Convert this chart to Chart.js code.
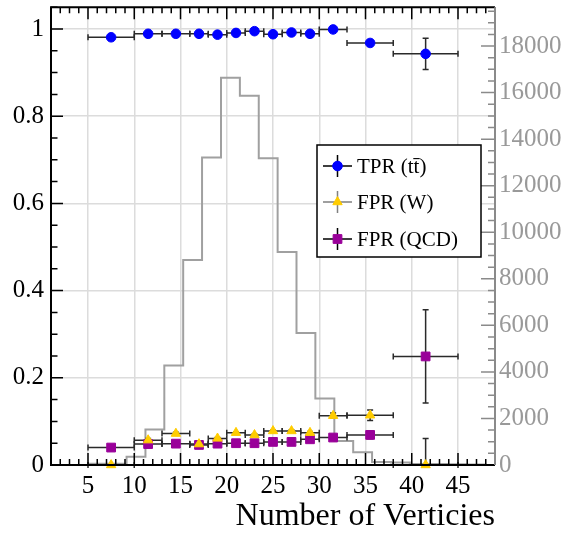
<!DOCTYPE html>
<html><head><meta charset="utf-8">
<script src="https://cdn.jsdelivr.net/npm/chart.js@4.4.1/dist/chart.umd.min.js"></script>
<style>html,body{margin:0;padding:0;background:#fff;}#wrap{width:561px;height:533px;}</style>
</head><body><div id="wrap"><canvas id="c" width="561" height="533"></canvas></div>
<script>
// ---- data ----
const binLow    = [5, 10, 13, 16, 18, 20, 22, 24, 26, 28, 30, 33, 38];
const binHigh   = [10, 13, 16, 18, 20, 22, 24, 26, 28, 30, 33, 38, 45];
const binCenter = [7.5, 11.5, 14.5, 17, 19, 21, 23, 25, 27, 29, 31.5, 35.5, 41.5];
const tprTT     = [0.981, 0.989, 0.989, 0.989, 0.987, 0.991, 0.995, 0.988, 0.992, 0.989, 0.999, 0.968, 0.943];
const tprTTErr  = [0.002, 0.001, 0.001, 0.001, 0.001, 0.001, 0.001, 0.001, 0.001, 0.001, 0.002, 0.005, 0.036];
const fprW      = [0.0, 0.057, 0.072, 0.048, 0.061, 0.074, 0.069, 0.078, 0.078, 0.074, 0.113, 0.114, 0.0];
const fprWErr   = [0.0, 0.004, 0.003, 0.002, 0.002, 0.002, 0.002, 0.002, 0.002, 0.003, 0.006, 0.012, 0.061];
const fprQCD    = [0.040, 0.048, 0.049, 0.046, 0.049, 0.050, 0.050, 0.053, 0.053, 0.059, 0.063, 0.069, 0.249];
const fprQCDErr = [0.002, 0.002, 0.002, 0.001, 0.001, 0.001, 0.001, 0.001, 0.002, 0.002, 0.004, 0.009, 0.107];
const histEdges  = [1, 3.04, 5.08, 7.13, 9.17, 11.21, 13.25, 15.29, 17.33, 19.38, 21.42, 23.46, 25.5, 27.54, 29.58, 31.63, 33.67, 35.71, 37.75, 39.79, 41.83, 43.88, 45.92, 47.96, 50];
const histCounts = [0, 0, 50, 50, 355, 1526, 4275, 8807, 13211, 16644, 15862, 13181, 9149, 5673, 2852, 1026, 543, 130, 110, 40, 40, 30, 20, 0];
const xTicks  = [5, 10, 15, 20, 25, 30, 35, 40, 45];
const yTicks  = [0, 0.2, 0.4, 0.6, 0.8, 1];
const y2Ticks = [0, 2000, 4000, 6000, 8000, 10000, 12000, 14000, 16000, 18000];
const seriesNames = ['TPR (tt\u0304)', 'FPR (W)', 'FPR (QCD)'];
const xTitle = 'Number of Verticies';

// ---- build ----
const SERIF = '"Liberation Serif", "DejaVu Serif", serif';
// each bin value is held from its left edge to its right edge
const histData = [{x: histEdges[0], y: 0}];
histCounts.forEach((c, i) => histData.push({x: histEdges[i + 1], y: c}));
const pts = arr => arr.map((v, i) => ({x: binCenter[i], y: v}));

const styles = [
  {color: '#0000ff', style: 'circle', r: 4.8, err: tprTTErr, legLine: '#000'},
  {color: '#ffcc00', style: 'triangle', r: 5.4, err: fprWErr, legLine: '#808080'},
  {color: '#990099', style: 'rect', r: 6.2, err: fprQCDErr, legLine: '#000'}
];
const vals = [tprTT, fprW, fprQCD];

const datasets = [{
  type: 'line', label: 'hist', data: histData, yAxisID: 'y2', xAxisID: 'x',
  stepped: 'after', borderColor: '#a0a0a0', borderWidth: 2, pointRadius: 0, fill: false, order: 10
}];
vals.forEach((v, k) => datasets.push({
  type: 'scatter', label: seriesNames[k], data: pts(v), yAxisID: 'y', xAxisID: 'x',
  pointStyle: styles[k].style, pointRadius: styles[k].r, backgroundColor: styles[k].color,
  borderColor: styles[k].color, borderWidth: 1, clip: false, order: k
}));

function tickMarks(ctx, chart) {
  const a = chart.chartArea, x = chart.scales.x, y = chart.scales.y, y2 = chart.scales.y2;
  ctx.save();
  ctx.lineWidth = 1.5;
  ctx.strokeStyle = '#000';
  ctx.beginPath();
  for (let v = Math.ceil(x.min); v <= x.max; v++) {
    const px = x.getPixelForValue(v), len = (v % 5 === 0) ? 12 : 6;
    ctx.moveTo(px, a.bottom); ctx.lineTo(px, a.bottom - len);
    ctx.moveTo(px, a.top); ctx.lineTo(px, a.top + len);
  }
  for (let i = 0; i * 0.05 <= y.max + 1e-9; i++) {
    const py = y.getPixelForValue(i * 0.05), len = (i % 4 === 0) ? 12 : 6.5;
    ctx.moveTo(a.left, py); ctx.lineTo(a.left + len, py);
  }
  ctx.stroke();
  ctx.strokeStyle = '#8a8a8a';
  ctx.beginPath();
  for (let v = 0; v <= y2.max; v += 500) {
    const py = y2.getPixelForValue(v), len = (v % 2000 === 0) ? 14 : 7;
    ctx.moveTo(a.right, py); ctx.lineTo(a.right - len, py);
  }
  ctx.stroke();
  // frame
  ctx.lineWidth = 2;
  ctx.strokeStyle = '#000';
  ctx.beginPath();
  ctx.moveTo(a.right, a.top); ctx.lineTo(a.left, a.top); ctx.lineTo(a.left, a.bottom); ctx.lineTo(a.right, a.bottom);
  ctx.stroke();
  ctx.strokeStyle = '#8a8a8a';
  ctx.beginPath(); ctx.moveTo(a.right, a.top); ctx.lineTo(a.right, a.bottom); ctx.stroke();
  ctx.restore();
}

function errorBars(ctx, chart) {
  const x = chart.scales.x, y = chart.scales.y, a = chart.chartArea;
  ctx.save();
  ctx.lineWidth = 1.5;
  ctx.strokeStyle = '#2a2a2a';
  const cap = 3;
  vals.forEach((v, k) => {
    const err = styles[k].err;
    v.forEach((val, i) => {
      const py = y.getPixelForValue(val);
      const x0 = x.getPixelForValue(binLow[i]), x1 = x.getPixelForValue(binHigh[i]);
      const px = x.getPixelForValue(binCenter[i]);
      ctx.beginPath();
      ctx.moveTo(x0, py); ctx.lineTo(x1, py);
      ctx.moveTo(x0, py - cap); ctx.lineTo(x0, py + cap);
      ctx.moveTo(x1, py - cap); ctx.lineTo(x1, py + cap);
      if (err[i] > 0) {
        const ya = y.getPixelForValue(val + err[i]);
        const yb = Math.min(y.getPixelForValue(val - err[i]), a.bottom);
        ctx.moveTo(px, ya); ctx.lineTo(px, yb);
        ctx.moveTo(px - cap, ya); ctx.lineTo(px + cap, ya);
        if (yb < a.bottom) { ctx.moveTo(px - cap, yb); ctx.lineTo(px + cap, yb); }
      }
      ctx.stroke();
    });
  });
  ctx.restore();
}

function legend(ctx, chart) {
  const bx = 317, by = 145, bw = 164, bh = 112;
  ctx.save();
  ctx.fillStyle = '#fff';
  ctx.fillRect(bx, by, bw, bh);
  ctx.lineWidth = 1.5;
  ctx.strokeStyle = '#000';
  ctx.strokeRect(bx, by, bw, bh);
  const rows = [166, 202, 239];
  rows.forEach((ry, k) => {
    const cx = 337.5;
    ctx.strokeStyle = styles[k].legLine;
    ctx.lineWidth = 1.5;
    ctx.beginPath();
    ctx.moveTo(323, ry); ctx.lineTo(352, ry);
    ctx.moveTo(cx, ry - 11); ctx.lineTo(cx, ry + 11);
    ctx.stroke();
    ctx.fillStyle = styles[k].color;
    ctx.strokeStyle = styles[k].color;
    ctx.lineWidth = 1;
    Chart.helpers.drawPoint(ctx, {pointStyle: styles[k].style, radius: styles[k].r, borderWidth: 1}, cx, ry);
    ctx.fillStyle = '#000';
    ctx.font = '21px ' + SERIF;
    ctx.textBaseline = 'middle';
    ctx.textAlign = 'left';
    ctx.fillText(seriesNames[k], 357, ry + 1);
  });
  ctx.restore();
}

const deco = {
  id: 'deco',
  afterDatasetDraw(chart, args) {
    if (args.index === 0) errorBars(chart.ctx, chart);
  },
  afterDraw(chart) {
    tickMarks(chart.ctx, chart);
    legend(chart.ctx, chart);
  }
};

new Chart(document.getElementById('c'), {
  data: {datasets},
  plugins: [deco],
  options: {
    responsive: false, devicePixelRatio: 1, animation: false,
    layout: {padding: {top: 5, left: 0, right: 0, bottom: 0}},
    plugins: {legend: {display: false}, tooltip: {enabled: false}},
    scales: {
      x: {
        type: 'linear', position: 'bottom', min: 1, max: 49,
        afterBuildTicks: s => { s.ticks = xTicks.map(v => ({value: v})); },
        afterFit: s => { s.height = 68; s.paddingLeft = 0; s.paddingRight = 0; },
        grid: {color: '#dcdcdc', lineWidth: 1.5, drawTicks: false},
        border: {display: false},
        ticks: {color: '#000', font: {family: SERIF, size: 25}, padding: 6, maxRotation: 0, autoSkip: false,
                callback: v => String(v)},
        title: {display: true, text: xTitle, align: 'end', color: '#000',
                font: {family: SERIF, size: 32, lineHeight: 1.0}, padding: {top: 0, bottom: 0}}
      },
      y: {
        type: 'linear', position: 'left', min: 0, max: 1.05,
        afterBuildTicks: s => { s.ticks = yTicks.map(v => ({value: v})); },
        afterFit: s => { s.width = 51; s.paddingTop = 0; s.paddingBottom = 0; },
        grid: {color: '#dcdcdc', lineWidth: 1.5, drawTicks: false},
        border: {display: false},
        ticks: {color: '#000', font: {family: SERIF, size: 25}, padding: 7,
                callback: v => String(Math.round(v * 10) / 10)}
      },
      y2: {
        type: 'linear', position: 'right', min: 0, max: 19670,
        afterBuildTicks: s => { s.ticks = y2Ticks.map(v => ({value: v})); },
        afterFit: s => { s.width = 66; s.paddingTop = 0; s.paddingBottom = 0; },
        grid: {display: false, drawTicks: false},
        border: {display: false},
        ticks: {color: '#999999', font: {family: SERIF, size: 25}, padding: 4,
                callback: v => String(v)}
      }
    }
  }
});
</script>
</body></html>
